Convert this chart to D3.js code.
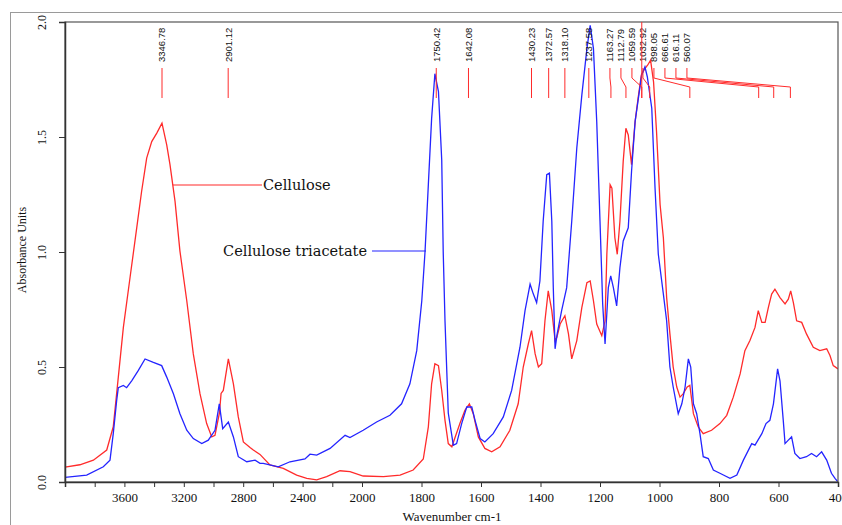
<!DOCTYPE html>
<html>
<head>
<meta charset="utf-8">
<script src="https://cdn.jsdelivr.net/npm/d3@7"></script>
<style>
body { margin: 0; background: #fff; }
svg { display: block; }
</style>
</head>
<body>
<script>
var width = 842, height = 525;

// FTIR spectrum of cellulose (red), wavenumber cm-1 / absorbance
var celluloseWn = [4000, 3900, 3809, 3719, 3675, 3641, 3607, 3562, 3517, 3484, 3450, 3416, 3382, 3347, 3315, 3293, 3259, 3226, 3180, 3136, 3091, 3046, 3012, 2990, 2960, 2949, 2934, 2900, 2866, 2833, 2799, 2754, 2732, 2687, 2620, 2530, 2440, 2372, 2305, 2238, 2148, 2081, 1996, 1928, 1872, 1828, 1794, 1777, 1766, 1755, 1743, 1732, 1721, 1710, 1698, 1671, 1654, 1639, 1626, 1609, 1587, 1564, 1536, 1503, 1475, 1458, 1441, 1430, 1418, 1407, 1396, 1385, 1374, 1362, 1351, 1345, 1334, 1318, 1306, 1295, 1278, 1261, 1244, 1233, 1222, 1211, 1194, 1183, 1177, 1166, 1160, 1150, 1142, 1133, 1122, 1113, 1105, 1094, 1082, 1072, 1061, 1049, 1040, 1030, 1020, 1010, 998, 987, 976, 965, 954, 942, 931, 920, 907, 898, 886, 870, 853, 825, 797, 774, 752, 729, 713, 696, 679, 668, 656, 645, 634, 623, 612, 595, 578, 567, 559, 550, 539, 522, 506, 483, 461, 438, 427, 416, 400];
var celluloseAbs = [0.065, 0.075, 0.095, 0.139, 0.24, 0.456, 0.672, 0.889, 1.105, 1.264, 1.408, 1.48, 1.517, 1.56, 1.466, 1.38, 1.22, 1.004, 0.788, 0.557, 0.384, 0.254, 0.196, 0.203, 0.3, 0.385, 0.398, 0.535, 0.427, 0.283, 0.174, 0.15, 0.139, 0.12, 0.074, 0.059, 0.03, 0.016, 0.009, 0.023, 0.049, 0.045, 0.026, 0.023, 0.03, 0.052, 0.1, 0.24, 0.427, 0.514, 0.506, 0.398, 0.268, 0.167, 0.153, 0.254, 0.312, 0.34, 0.297, 0.196, 0.146, 0.131, 0.153, 0.225, 0.34, 0.5, 0.6, 0.658, 0.557, 0.5, 0.514, 0.701, 0.831, 0.745, 0.615, 0.629, 0.687, 0.723, 0.644, 0.535, 0.615, 0.759, 0.867, 0.874, 0.788, 0.687, 0.636, 0.701, 0.99, 1.293, 1.278, 1.062, 0.99, 1.134, 1.394, 1.538, 1.509, 1.38, 1.567, 1.668, 1.77, 1.798, 1.812, 1.834, 1.74, 1.524, 1.206, 1.062, 0.802, 0.644, 0.5, 0.413, 0.369, 0.384, 0.413, 0.42, 0.297, 0.24, 0.21, 0.225, 0.254, 0.29, 0.369, 0.47, 0.571, 0.615, 0.672, 0.745, 0.694, 0.694, 0.759, 0.817, 0.838, 0.802, 0.774, 0.795, 0.831, 0.78, 0.701, 0.694, 0.644, 0.586, 0.571, 0.579, 0.55, 0.506, 0.492];

// FTIR spectrum of cellulose triacetate (blue)
var triacetateWn = [4000, 3854, 3742, 3697, 3675, 3652, 3641, 3607, 3585, 3551, 3506, 3461, 3405, 3349, 3315, 3270, 3226, 3180, 3136, 3079, 3035, 2990, 2961, 2938, 2900, 2866, 2833, 2776, 2720, 2687, 2665, 2564, 2485, 2384, 2350, 2305, 2215, 2114, 2081, 1996, 1951, 1906, 1867, 1839, 1816, 1799, 1788, 1777, 1766, 1755, 1743, 1732, 1727, 1721, 1710, 1693, 1682, 1665, 1648, 1631, 1620, 1603, 1587, 1559, 1525, 1497, 1469, 1452, 1435, 1424, 1413, 1402, 1391, 1379, 1370, 1362, 1357, 1351, 1344, 1329, 1312, 1295, 1278, 1261, 1244, 1233, 1222, 1211, 1200, 1191, 1183, 1172, 1164, 1155, 1144, 1133, 1122, 1105, 1094, 1082, 1071, 1060, 1049, 1041, 1026, 1015, 1004, 987, 976, 965, 954, 937, 925, 914, 903, 895, 886, 875, 864, 853, 836, 819, 797, 763, 740, 718, 690, 679, 656, 642, 629, 617, 603, 595, 584, 578, 567, 556, 545, 528, 506, 489, 472, 455, 438, 422, 410, 400];
var triacetateAbs = [0.02, 0.03, 0.066, 0.095, 0.21, 0.355, 0.41, 0.42, 0.41, 0.44, 0.485, 0.535, 0.52, 0.506, 0.456, 0.384, 0.297, 0.225, 0.189, 0.167, 0.182, 0.225, 0.34, 0.232, 0.261, 0.196, 0.11, 0.088, 0.095, 0.081, 0.081, 0.066, 0.088, 0.1, 0.121, 0.117, 0.146, 0.203, 0.193, 0.225, 0.261, 0.29, 0.34, 0.427, 0.571, 0.788, 1.004, 1.293, 1.58, 1.775, 1.697, 1.4, 1.0, 0.7, 0.3, 0.16, 0.167, 0.254, 0.326, 0.326, 0.268, 0.189, 0.174, 0.21, 0.283, 0.398, 0.586, 0.745, 0.86, 0.817, 0.78, 0.874, 1.134, 1.336, 1.343, 1.134, 0.845, 0.579, 0.644, 0.745, 0.845, 1.134, 1.452, 1.683, 1.884, 1.986, 1.884, 1.567, 1.134, 0.774, 0.6, 0.845, 0.896, 0.845, 0.766, 0.932, 1.048, 1.105, 1.35, 1.567, 1.668, 1.77, 1.805, 1.762, 1.625, 1.278, 0.99, 0.817, 0.701, 0.5, 0.413, 0.297, 0.34, 0.413, 0.535, 0.5, 0.34, 0.297, 0.21, 0.11, 0.102, 0.052, 0.038, 0.016, 0.03, 0.095, 0.167, 0.16, 0.21, 0.254, 0.268, 0.34, 0.492, 0.44, 0.268, 0.167, 0.182, 0.196, 0.124, 0.102, 0.11, 0.124, 0.11, 0.131, 0.095, 0.038, 0.016, 0.0];

var peakLabels = ['3346.78', '2901.12', '1750.42', '1642.08', '1430.23', '1372.57', '1318.10', '1237.58', '1163.27', '1112.79', '1059.59', '1032.92', '898.05', '666.61', '616.11', '560.07'];

var xTicks = [3800, 3600, 3400, 3200, 3000, 2800, 2600, 2400, 2200, 2000, 1800, 1600, 1400, 1200, 1000, 800, 600, 400];
var xTickLabels = [3600, 3200, 2800, 2400, 2000, 1800, 1600, 1400, 1200, 1000, 800, 600, 400];
var yTicks = [0, 0.5, 1.0, 1.5, 2.0];

var plotLeft = 65, plotRight = 838, plotTop = 22, plotBottom = 482;
var red = '#ff2b2b', blue = '#2424ff';

var svg = d3.select('body').append('svg')
    .attr('width', width)
    .attr('height', height);

// outer frame
svg.append('rect')
    .attr('x', 10.5).attr('y', 12.5)
    .attr('width', width).attr('height', height)
    .attr('fill', '#fff')
    .attr('stroke', '#9a9a9a');

// x scale is compressed above 2000 cm-1 like the instrument software does
var x = d3.scaleLinear().domain([4000, 2000, 400]).range([plotLeft, 362, plotRight]);
var y = d3.scaleLinear().domain([0, 2]).range([plotBottom, plotTop]);

svg.append('clipPath').attr('id', 'plot')
    .append('rect')
    .attr('x', plotLeft).attr('y', plotTop)
    .attr('width', plotRight - plotLeft).attr('height', plotBottom - plotTop);

var line = d3.line()
    .x(function(d){ return x(d[0]); })
    .y(function(d){ return y(d[1]); });

svg.append('path')
    .datum(d3.zip(celluloseWn, celluloseAbs))
    .attr('clip-path', 'url(#plot)')
    .attr('fill', 'none')
    .attr('stroke', red)
    .attr('stroke-width', 1.3)
    .attr('d', line);

svg.append('path')
    .datum(d3.zip(triacetateWn, triacetateAbs))
    .attr('clip-path', 'url(#plot)')
    .attr('fill', 'none')
    .attr('stroke', blue)
    .attr('stroke-width', 1.3)
    .attr('d', line);

// plot box
svg.append('rect')
    .attr('x', plotLeft).attr('y', plotTop)
    .attr('width', plotRight - plotLeft).attr('height', plotBottom - plotTop)
    .attr('fill', 'none')
    .attr('stroke', '#555')
    .attr('stroke-width', 1.2);

// axes
var xAxis = svg.append('g')
    .attr('transform', 'translate(0,' + plotBottom + ')')
    .call(d3.axisBottom(x)
        .tickValues(xTicks)
        .tickSize(5)
        .tickPadding(6)
        .tickFormat(function(d){ return xTickLabels.indexOf(d) >= 0 ? d : ''; }));
xAxis.select('.domain').attr('stroke', '#333').attr('stroke-width', 1.5);
xAxis.selectAll('line').attr('stroke', '#333');
xAxis.selectAll('text')
    .attr('font-family', '"Liberation Serif", serif')
    .attr('font-size', 13)
    .attr('fill', '#111');

var yAxis = svg.append('g')
    .attr('transform', 'translate(' + plotLeft + ',0)')
    .call(d3.axisLeft(y)
        .tickValues(yTicks)
        .tickSize(6)
        .tickFormat(d3.format('.1f')));
yAxis.select('.domain').attr('stroke', '#333').attr('stroke-width', 1.5);
yAxis.selectAll('line').attr('stroke', '#333');
yAxis.selectAll('text')
    .attr('x', null)
    .attr('dy', '0.35em')
    .attr('text-anchor', 'middle')
    .attr('transform', 'translate(-23,0) rotate(-90)')
    .attr('font-family', '"Liberation Serif", serif')
    .attr('font-size', 12)
    .attr('fill', '#111');

svg.append('text')
    .attr('transform', 'translate(26,250) rotate(-90)')
    .attr('text-anchor', 'middle')
    .attr('font-family', '"Liberation Serif", serif')
    .attr('font-size', 12)
    .attr('fill', '#111')
    .text('Absorbance Units');

svg.append('text')
    .attr('x', 452).attr('y', 521)
    .attr('text-anchor', 'middle')
    .attr('font-family', '"Liberation Serif", serif')
    .attr('font-size', 13)
    .attr('fill', '#111')
    .text('Wavenumber cm-1');

// peak markers; crowded labels on the right are packed and get leaders
var packFrom = 8, packGap = 11;
var peaks = peakLabels.map(function(p, i){
    var tx = x(+p);
    var lx = i < packFrom ? tx : x(+peakLabels[packFrom]) - 1 + (i - packFrom) * packGap;
    return {label: p, tx: tx, lx: lx};
});

var marks = svg.append('g');

marks.selectAll('text')
    .data(peaks)
    .enter().append('text')
    .attr('transform', function(d){ return 'translate(' + d.lx + ',62) rotate(-90)'; })
    .attr('dy', '0.35em')
    .attr('font-family', '"Liberation Sans", Arial, sans-serif')
    .attr('font-size', 9.5)
    .attr('fill', '#111')
    .text(function(d){ return d.label; });

marks.selectAll('polyline')
    .data(peaks)
    .enter().append('polyline')
    .attr('fill', 'none')
    .attr('stroke', red)
    .attr('stroke-width', 1)
    .attr('points', function(d){
        if (Math.abs(d.lx - d.tx) < 0.5) return [d.tx, 68, d.tx, 98].join(' ');
        return [d.lx, 68, d.lx, 78, d.tx, 87, d.tx, 98].join(' ');
    });

// the 1059.59 marker runs up to the plot top
marks.append('line')
    .attr('x1', x(1059.59)).attr('x2', x(1059.59))
    .attr('y1', plotTop).attr('y2', 98)
    .attr('stroke', red)
    .attr('stroke-width', 1);

// callout legend
var legendFont = '"DejaVu Serif", serif';
svg.append('line')
    .attr('x1', 173).attr('x2', 262)
    .attr('y1', 185).attr('y2', 185)
    .attr('stroke', red).attr('stroke-width', 1.2);
svg.append('text')
    .attr('x', 263).attr('y', 190)
    .attr('font-family', legendFont)
    .attr('font-size', 14.5)
    .attr('fill', '#111')
    .text('Cellulose');

svg.append('line')
    .attr('x1', 372).attr('x2', 426)
    .attr('y1', 251).attr('y2', 251)
    .attr('stroke', blue).attr('stroke-width', 1.2);
svg.append('text')
    .attr('x', 367).attr('y', 256)
    .attr('text-anchor', 'end')
    .attr('font-family', legendFont)
    .attr('font-size', 14.5)
    .attr('fill', '#111')
    .text('Cellulose triacetate');
</script>
</body>
</html>
